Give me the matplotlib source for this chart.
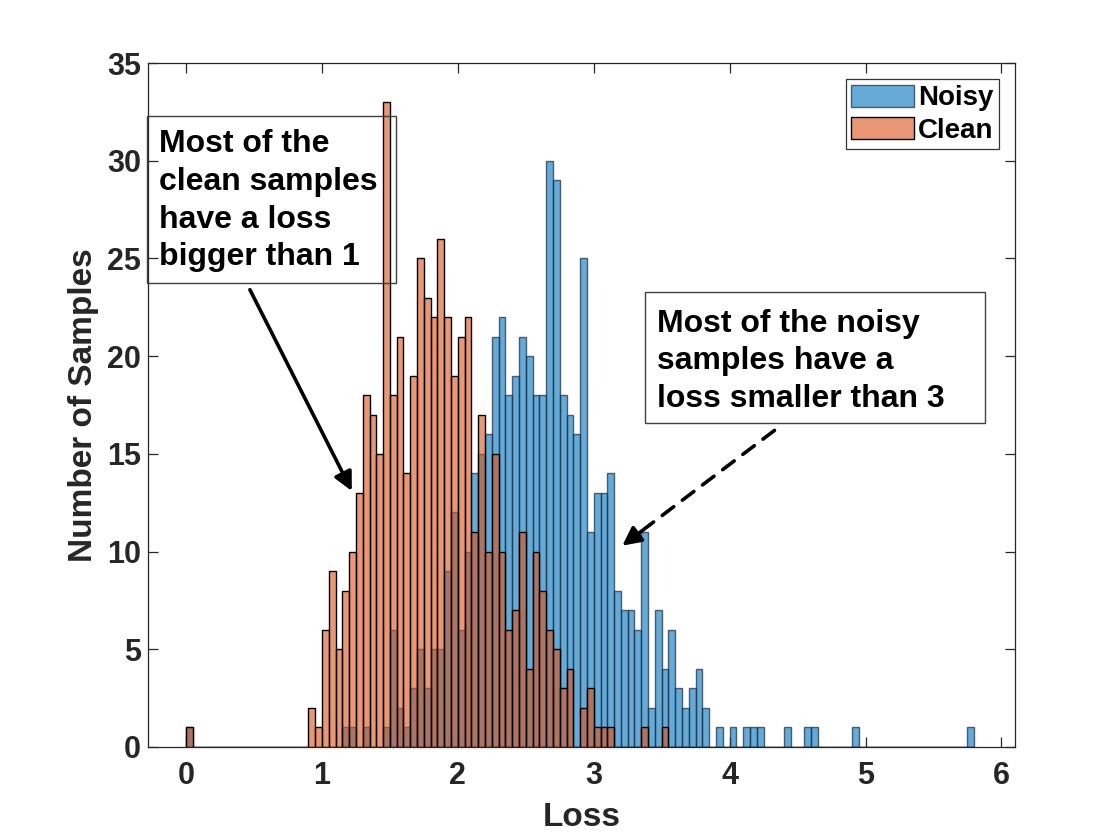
import numpy as np
import matplotlib
matplotlib.use("Agg")
import matplotlib.pyplot as plt
from matplotlib.patches import Rectangle

plt.rcParams['font.family'] = ['Liberation Sans', 'DejaVu Sans']

# ---- data (bin width 0.05, bins start at 0) ----
bin_width = 0.05
n_bins = 116

noisy_counts = [
    1, 0, 0, 0, 0, 0, 0, 0, 0, 0,      # 0.00-0.50
    0, 0, 0, 0, 0, 0, 0, 0, 0, 0,      # 0.50-1.00
    0, 0, 0, 1, 1, 0, 1, 0, 0, 1,      # 1.00-1.50
    6, 2, 1, 3, 5, 3, 5, 5, 9, 12,     # 1.50-2.00
    6, 10, 14, 15, 16, 21, 22, 18, 19, 21,  # 2.00-2.50
    20, 18, 18, 30, 29, 18, 17, 16, 25, 11,  # 2.50-3.00
    13, 13, 14, 8, 7, 7, 6, 11, 2, 7,  # 3.00-3.50
    4, 6, 3, 2, 3, 4, 2, 0, 1, 0,      # 3.50-4.00
    1, 0, 1, 1, 1, 0, 0, 0, 1, 0,      # 4.00-4.50
    0, 1, 1, 0, 0, 0, 0, 0, 1, 0,      # 4.50-5.00
    0, 0, 0, 0, 0, 0, 0, 0, 0, 0,      # 5.00-5.50
    0, 0, 0, 0, 0, 1,                  # 5.50-5.80
]

clean_counts = [
    1, 0, 0, 0, 0, 0, 0, 0, 0, 0,      # 0.00-0.50
    0, 0, 0, 0, 0, 0, 0, 0, 2, 1,      # 0.50-1.00
    6, 9, 5, 8, 10, 13, 18, 17, 15, 33,  # 1.00-1.50
    18, 21, 14, 19, 25, 23, 22, 26, 22, 19,  # 1.50-2.00
    21, 22, 11, 17, 10, 15, 10, 6, 7, 11,  # 2.00-2.50
    4, 10, 8, 6, 5, 3, 4, 0, 2, 3,     # 2.50-3.00
    1, 1, 1, 0, 0, 0, 0, 1, 0, 0,      # 3.00-3.50
    1,                                 # 3.50-3.55
]
clean_counts = clean_counts + [0] * (n_bins - len(clean_counts))

series_labels = ['Noisy', 'Clean']
x_ticks = [0, 1, 2, 3, 4, 5, 6]
y_ticks = [0, 5, 10, 15, 20, 25, 30, 35]

edges = np.arange(n_bins) * bin_width

# ---- figure ----
W, H = 1120, 840
fig = plt.figure(figsize=(W / 100, H / 100), dpi=100)
ax = fig.add_axes([148 / W, 1 - 747 / H, (1015 - 148) / W, (747 - 63) / H])

blue = (0.0, 0.447, 0.741, 0.6)
orange = (0.85, 0.325, 0.098, 0.6)

ax.bar(edges, noisy_counts, width=bin_width, align='edge', facecolor=blue,
       edgecolor=(0.12, 0.2, 0.28, 0.75), linewidth=1.0, label=series_labels[0], zorder=2)
ax.bar(edges, clean_counts, width=bin_width, align='edge', facecolor=orange,
       edgecolor='black', linewidth=1.0, label=series_labels[1], zorder=3)

ax.set_xlim(-0.28, 6.1)
ax.set_ylim(0, 35)
ax.set_xticks(x_ticks)
ax.set_yticks(y_ticks)

axcol = (0.15, 0.15, 0.15)
for s in ax.spines.values():
    s.set_color(axcol)
    s.set_linewidth(0.9)
ax.tick_params(direction='in', top=True, right=True, length=7, width=0.9,
               color=axcol, labelcolor=axcol, labelsize=22)
ax.tick_params(axis='x', pad=10)
ax.tick_params(axis='y', pad=5)
for lab in ax.get_xticklabels() + ax.get_yticklabels():
    lab.set_fontweight('bold')

ax.set_xlabel('Loss', fontsize=24, fontweight='bold', color=axcol, labelpad=8)
ax.set_ylabel('Number of Samples', fontsize=24, fontweight='bold', color=axcol, labelpad=6)

leg = ax.legend(loc='upper right', prop={'weight': 'bold', 'size': 20},
                frameon=True, fancybox=False, edgecolor='black', handlelength=2.25,
                handleheight=0.85, handletextpad=0.15, borderpad=0.2, labelspacing=0.2,
                borderaxespad=0.58)
leg.get_frame().set_linewidth(0.9)

# ---- annotation text boxes (figure pixel placement) ----
def fx(px):
    return px / W

def fy(py):
    return 1 - py / H

for (x0, y0, x1, y1) in [(147, 116, 396, 283), (645, 292, 985, 423)]:
    fig.add_artist(Rectangle((fx(x0), fy(y1)), fx(x1) - fx(x0), fy(y0) - fy(y1),
                             transform=fig.transFigure, facecolor='none',
                             edgecolor=(0.25, 0.25, 0.25), linewidth=1.0, zorder=10))

fig.text(fx(159), fy(129), 'Most of the\nclean samples\nhave a loss\nbigger than 1',
         fontsize=23, fontweight='bold', color='black', va='top', ha='left',
         linespacing=1.34, zorder=11)
fig.text(fx(657), fy(309), 'Most of the noisy\nsamples have a\nloss smaller than 3',
         fontsize=23, fontweight='bold', color='black', va='top', ha='left',
         linespacing=1.32, zorder=11)

# ---- arrows ----
ax.annotate('', xy=(1.22, 13.1), xytext=(0.47, 23.4),
            arrowprops=dict(arrowstyle='-|>', lw=2.6, color='black', mutation_scale=28,
                            shrinkA=0, shrinkB=0), zorder=12)
tail = np.array([4.33, 16.2])
head = np.array([3.21, 10.3])
mid = head + (tail - head) * 0.18
ax.annotate('', xy=tuple(mid), xytext=tuple(tail),
            arrowprops=dict(arrowstyle='-', lw=2.6, color='black', linestyle=(0, (4, 3)),
                            shrinkA=0, shrinkB=0), zorder=12)
ax.annotate('', xy=tuple(head), xytext=tuple(mid),
            arrowprops=dict(arrowstyle='-|>', lw=2.6, color='black', mutation_scale=28,
                            shrinkA=0, shrinkB=0), zorder=12)

fig.savefig('out.png', dpi=100)
